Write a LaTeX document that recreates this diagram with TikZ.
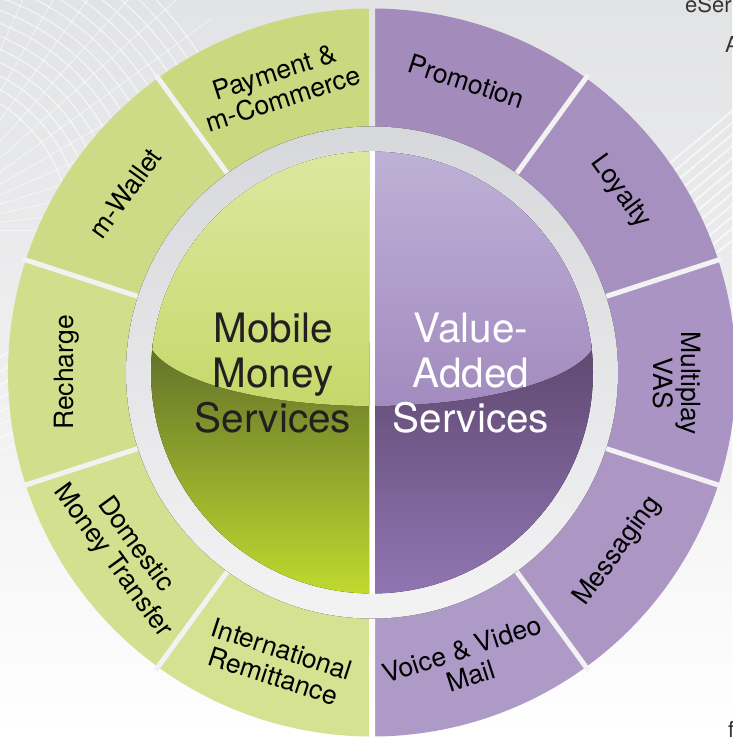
\documentclass[tikz,border=0pt]{standalone}
\usepackage{fontspec}
\setmainfont{TeX Gyre Heros}
\definecolor{bgtop}{HTML}{E2E3E5}
\definecolor{bgmid}{HTML}{EFEFF0}
\definecolor{segGa}{HTML}{CAD880}
\definecolor{segGb}{HTML}{CEDB86}
\definecolor{segGc}{HTML}{D1DE8B}
\definecolor{segGd}{HTML}{D3E08F}
\definecolor{segGe}{HTML}{D5E292}
\definecolor{segPa}{HTML}{A38CBC}
\definecolor{segPb}{HTML}{A690C0}
\definecolor{segPc}{HTML}{A994C3}
\definecolor{segPd}{HTML}{AB96C4}
\definecolor{segPe}{HTML}{AE9AC6}
\definecolor{bandTop}{HTML}{D7D8DB}
\definecolor{bandBot}{HTML}{F3F3F4}
\definecolor{gUpTop}{HTML}{DDE8A0}
\definecolor{gUpBot}{HTML}{C6D86A}
\definecolor{gLoTop}{HTML}{617029}
\definecolor{gLoBot}{HTML}{C0DA2F}
\definecolor{pUpTop}{HTML}{BFB1D7}
\definecolor{pUpBot}{HTML}{A28BBF}
\definecolor{pLoTop}{HTML}{5F4870}
\definecolor{pLoBot}{HTML}{9075B2}
\definecolor{sepcol}{HTML}{F2F2F3}
\definecolor{textdark}{HTML}{231F20}
\definecolor{fragcol}{HTML}{333333}
\begin{document}
\begin{tikzpicture}[x=1pt,y=1pt,
  seglabel/.style={font=\fontsize{26.5}{28}\selectfont, align=center, text=black, inner sep=0pt},
  bigG/.style={font=\fontsize{40.5}{45}\selectfont, text=textdark, anchor=base, inner sep=0pt},
  bigP/.style={bigG, text=white},
  frag/.style={font=\fontsize{22}{24}\selectfont, text=fragcol, anchor=base west, inner sep=0pt},
  sepline/.style={sepcol, line width=5pt},
  bgshade/.style={top color=bgtop, bottom color=white, middle color=bgmid},
]
\useasboundingbox (-372,-365.5) rectangle (360,372.5);
% background
\fill[bgshade] (-372,-365.5) rectangle (360,372.5);
\begin{scope}
  \clip (-372,-80) rectangle (-100,372.5);
  \foreach \r in {150,162,...,340}
    \draw[white, opacity=0.6, line width=1.2pt] (-452,142) circle (\r);
  \foreach \t in {0,6,...,90}
    \draw[white, opacity=0.5, line width=1pt] (-452,142) -- ++(\t:360);
\end{scope}
\begin{scope}
  \clip (150,120) rectangle (360,372.5);
  \foreach \k in {0,14,...,300}
    \draw[white, opacity=0.6, line width=2pt] (120+\k,60) -- ++(40:330);
\end{scope}
% outer ring segments
\foreach \a/\b/\c in {90/126/segGa,126/162/segGb,162/198/segGc,198/234/segGd,234/270/segGe,
                      54/90/segPa,18/54/segPb,-18/18/segPc,-54/-18/segPd,-90/-54/segPe}
  \fill[\c] (\a:364) arc[start angle=\a, end angle=\b, radius=364]
     -- (\b:246) arc[start angle=\b, end angle=\a, radius=246] -- cycle;
% vertical gap
\fill[bgshade] (-3,-365.5) rectangle (3,372.5);
% separators
\foreach \t in {126,162,198,234,54,18,-18,-54}
  \draw[sepline] (\t:243) -- (\t:368);
% band
\fill[top color=bandTop, bottom color=bandBot] (0,0) circle (246);
\fill[white] (0,0) circle (221.5);
% left inner half
\begin{scope}
  \clip (0,0) circle (221);
  \clip (-230,-230) rectangle (-3,230);
  \fill[top color=gLoTop, bottom color=gLoBot] (-225,-221) rectangle (0,30);
  \fill[top color=gUpTop, bottom color=gUpBot]
    (-225,38) arc[start angle=180, end angle=360, x radius=225, y radius=71.5]
    -- (225,225) -- (-225,225) -- cycle;
\end{scope}
% right inner half
\begin{scope}
  \clip (0,0) circle (221);
  \clip (3,-230) rectangle (230,230);
  \fill[top color=pLoTop, bottom color=pLoBot] (0,-221) rectangle (225,30);
  \fill[top color=pUpTop, bottom color=pUpBot]
    (-225,38) arc[start angle=180, end angle=360, x radius=225, y radius=71.5]
    -- (225,225) -- (-225,225) -- cycle;
\end{scope}
% centre texts
\node[bigG] (mm1) at (-99,29.5) {Mobile};
\node[bigG] (mm2) at (-99,-15.5) {Money};
\node[bigG] (mm3) at (-99,-60.5) {Services};
\node[bigP] (va1) at (99,29.5) {Value-};
\node[bigP] (va2) at (99,-15.5) {Added};
\node[bigP] (va3) at (99,-60.5) {Services};
% segment labels
\node[seglabel, rotate=18]  (pay)   at (108:302) {Payment \&\\m-Commerce};
\node[seglabel, rotate=54]  (wal)   at (144:305) {m-Wallet};
\node[seglabel, rotate=90]  (rec)   at (180:305) {Recharge};
\node[seglabel, rotate=-54] (dom)   at (216:307) {Domestic\\Money Transfer};
\node[seglabel, rotate=-18] (intl)  at (252:305) {International\\Remittance};
\node[seglabel, rotate=18]  (voice) at (288:305) {Voice \& Video\\Mail};
\node[seglabel, rotate=54]  (msg)   at (324:304) {Messaging};
\node[seglabel, rotate=-90] (vas)   at (-2:305)  {Multiplay\\VAS};
\node[seglabel, rotate=-54] (loy)   at (36:307)  {Loyalty};
\node[seglabel, rotate=-18] (promo) at (72:306)  {Promotion};
% cut-off fragments at the edge
\node[frag] (fr1) at (313,359.5) {eSer};
\node[frag] (fr2) at (353,319.5) {A};
\node[frag] (fr3) at (356,-364.5) {f};
\end{tikzpicture}
\end{document}
